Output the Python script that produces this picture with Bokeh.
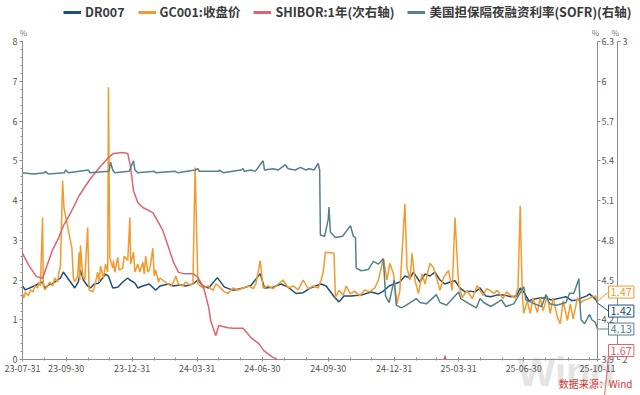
import pandas as pd
from bokeh.plotting import figure
from bokeh.models import (Range1d, LinearAxis, FixedTicker, SingleIntervalTicker,
                          DatetimeTickFormatter, Legend, LegendItem, Label, Arrow,
                          ColumnDataSource, BoxAnnotation)
from bokeh.embed import file_html
from bokeh.resources import INLINE

FONT = "Noto Sans CJK SC"

series_names = ["DR007", "GC001:收盘价", "SHIBOR:1年(次右轴)", "美国担保隔夜融资利率(SOFR)(右轴)"]
series_colors = ["#1f4e79", "#f39a2c", "#e0646c", "#55818b"]

x_start, x_end = "2023-07-31", "2025-10-11"
x_major_ticks = ["2023-07-31", "2023-09-30", "2023-12-31", "2024-03-31", "2024-06-30",
                 "2024-09-30", "2024-12-31", "2025-03-31", "2025-06-30", "2025-10-11"]
left_range = (0, 8)
sofr_range = (3.9, 6.3)
sofr_ticks = [3.9, 4.2, 4.5, 4.8, 5.1, 5.4, 5.7, 6.0, 6.3]
shibor_range = (2, 3)
shibor_ticks = [2, 3]

dr_dates = ["2023-07-31", "2023-08-04", "2023-08-10", "2023-08-16", "2023-08-22", "2023-08-28", "2023-08-31",
            "2023-09-06", "2023-09-12", "2023-09-18", "2023-09-22", "2023-09-26", "2023-10-08", "2023-10-12",
            "2023-10-17", "2023-10-20", "2023-10-24", "2023-10-30", "2023-11-03", "2023-11-08", "2023-11-14",
            "2023-11-20", "2023-11-24", "2023-11-28", "2023-12-04", "2023-12-11", "2023-12-18", "2023-12-25",
            "2023-12-28", "2024-01-04", "2024-01-08", "2024-01-15", "2024-01-24", "2024-02-02", "2024-02-08",
            "2024-02-20", "2024-02-27", "2024-03-08", "2024-03-15", "2024-03-25", "2024-04-01", "2024-04-08",
            "2024-04-16", "2024-04-28", "2024-05-08", "2024-05-21", "2024-06-03", "2024-06-14", "2024-06-27",
            "2024-07-03", "2024-07-15", "2024-07-26", "2024-08-05", "2024-08-16", "2024-08-26", "2024-09-05",
            "2024-09-20", "2024-09-27", "2024-10-09", "2024-10-15", "2024-10-22", "2024-11-01", "2024-11-15",
            "2024-11-29", "2024-12-09", "2024-12-16", "2024-12-24", "2024-12-31", "2025-01-08", "2025-01-15",
            "2025-01-22", "2025-01-27", "2025-02-05", "2025-02-12", "2025-02-19", "2025-02-26", "2025-03-05",
            "2025-03-12", "2025-03-19", "2025-03-26", "2025-04-02", "2025-04-09", "2025-04-16", "2025-04-23",
            "2025-04-30", "2025-05-08", "2025-05-15", "2025-05-23", "2025-06-03", "2025-06-12", "2025-06-20",
            "2025-06-25", "2025-06-30", "2025-07-07", "2025-07-15", "2025-07-23", "2025-07-31", "2025-08-07",
            "2025-08-14", "2025-08-21", "2025-08-28", "2025-09-05", "2025-09-12", "2025-09-19", "2025-09-26",
            "2025-09-30", "2025-10-09", "2025-10-11"]
dr_vals = [1.85, 1.75, 1.80, 1.85, 1.90, 1.95, 1.80,
           1.88, 1.92, 2.00, 2.05, 2.20, 1.90, 1.80,
           1.95, 2.25, 2.00, 1.85, 1.80, 1.90, 1.92,
           2.05, 2.15, 2.10, 1.80, 1.82, 1.95, 2.05,
           2.00, 1.92, 1.80, 1.85, 1.90, 1.74, 1.85,
           1.90, 1.85, 1.88, 1.85, 1.90, 2.00, 1.85,
           1.80, 2.06, 1.82, 1.74, 1.80, 1.86, 2.16,
           1.80, 1.82, 1.90, 1.82, 1.66, 1.68, 1.80,
           1.90, 1.85, 1.56, 1.45, 1.60, 1.60, 1.62,
           1.70, 1.65, 1.72, 1.85, 1.90, 1.95, 2.10,
           2.05, 2.20, 1.95, 2.15, 2.10, 2.20, 2.00,
           1.90, 1.95, 1.98, 1.80, 1.70, 1.72, 1.70,
           1.80, 1.60, 1.58, 1.62, 1.62, 1.58, 1.60,
           1.80, 1.70, 1.48, 1.52, 1.55, 1.55, 1.50,
           1.52, 1.55, 1.58, 1.48, 1.50, 1.55, 1.60,
           1.65, 1.50, 1.42]

gc_dates = ["2023-07-31", "2023-08-02", "2023-08-04", "2023-08-08", "2023-08-11", "2023-08-15", "2023-08-17",
            "2023-08-21", "2023-08-23", "2023-08-25", "2023-08-28", "2023-08-29", "2023-08-31", "2023-09-04",
            "2023-09-07", "2023-09-11", "2023-09-14", "2023-09-18", "2023-09-20", "2023-09-22", "2023-09-25",
            "2023-09-27", "2023-10-08", "2023-10-10", "2023-10-12", "2023-10-16", "2023-10-18", "2023-10-19",
            "2023-10-20", "2023-10-23", "2023-10-26", "2023-10-30", "2023-11-01", "2023-11-06", "2023-11-09",
            "2023-11-13", "2023-11-15", "2023-11-17", "2023-11-21", "2023-11-24", "2023-11-27", "2023-11-28",
            "2023-11-30", "2023-12-04", "2023-12-05", "2023-12-07", "2023-12-11", "2023-12-13", "2023-12-18",
            "2023-12-20", "2023-12-25", "2023-12-28", "2023-12-29", "2024-01-02", "2024-01-04", "2024-01-08",
            "2024-01-11", "2024-01-15", "2024-01-17", "2024-01-19", "2024-01-22", "2024-01-24", "2024-01-26",
            "2024-01-29", "2024-01-31", "2024-02-02", "2024-02-06", "2024-02-08", "2024-02-19", "2024-02-23",
            "2024-02-27", "2024-03-01", "2024-03-05", "2024-03-11", "2024-03-15", "2024-03-20", "2024-03-25",
            "2024-03-28", "2024-04-01", "2024-04-08", "2024-04-15", "2024-04-22", "2024-04-26", "2024-04-30",
            "2024-05-08", "2024-05-13", "2024-05-20", "2024-05-27", "2024-06-03", "2024-06-11", "2024-06-17",
            "2024-06-21", "2024-06-27", "2024-07-01", "2024-07-08", "2024-07-15", "2024-07-22", "2024-07-29",
            "2024-08-05", "2024-08-12", "2024-08-19", "2024-08-26", "2024-09-02", "2024-09-09", "2024-09-16",
            "2024-09-20", "2024-09-23", "2024-09-26", "2024-10-08", "2024-10-10", "2024-10-15", "2024-10-21",
            "2024-10-25", "2024-10-31", "2024-11-06", "2024-11-13", "2024-11-20", "2024-11-27", "2024-12-04",
            "2024-12-09", "2024-12-16", "2024-12-21", "2024-12-25", "2024-12-30", "2025-01-04", "2025-01-08",
            "2025-01-15", "2025-01-18", "2025-01-22", "2025-01-25", "2025-01-29", "2025-02-03", "2025-02-08",
            "2025-02-12", "2025-02-19", "2025-02-24", "2025-03-01", "2025-03-05", "2025-03-10", "2025-03-17",
            "2025-03-22", "2025-03-26", "2025-03-31", "2025-04-05", "2025-04-12", "2025-04-19", "2025-04-26",
            "2025-04-30", "2025-05-04", "2025-05-09", "2025-05-14", "2025-05-19", "2025-05-24", "2025-06-01",
            "2025-06-06", "2025-06-11", "2025-06-18", "2025-06-22", "2025-06-25", "2025-06-28", "2025-06-30",
            "2025-07-05", "2025-07-09", "2025-07-13", "2025-07-19", "2025-07-23", "2025-07-27", "2025-08-02",
            "2025-08-06", "2025-08-10", "2025-08-16", "2025-08-20", "2025-08-24", "2025-08-30", "2025-09-03",
            "2025-09-07", "2025-09-13", "2025-09-17", "2025-09-21", "2025-09-27", "2025-10-01", "2025-10-08",
            "2025-10-11"]
gc_vals = [1.65, 1.55, 1.70, 1.60, 1.75, 1.70, 1.85,
           1.80, 1.95, 1.85, 3.57, 1.90, 1.75, 1.85,
           1.95, 1.85, 2.05, 1.95, 2.20, 2.35, 4.50,
           3.80, 2.80, 2.06, 1.95, 2.10, 2.70, 2.00,
           2.87, 2.10, 2.00, 3.32, 1.75, 1.70, 1.85,
           2.20, 1.95, 2.35, 2.05, 2.40, 2.20, 6.85,
           2.55, 2.30, 2.49, 2.20, 2.57, 2.25, 2.30,
           2.60, 2.50, 3.57, 2.40, 2.70, 2.20, 2.40,
           2.20, 2.45, 2.15, 2.60, 2.20, 2.25, 2.40,
           2.80, 2.10, 2.25, 1.95, 2.05, 1.90, 1.85,
           1.95, 2.10, 1.90, 1.85, 1.95, 1.88, 1.90,
           4.83, 1.90, 1.80, 1.85, 1.74, 1.90, 1.85,
           1.70, 1.66, 1.80, 1.75, 1.80, 1.85, 1.78,
           1.90, 2.49, 1.80, 1.85, 1.78, 1.90, 2.00,
           1.80, 1.85, 1.75, 2.00, 1.78, 1.85, 1.80,
           2.00, 2.20, 2.70, 2.67, 1.56, 1.74, 1.62,
           1.85, 1.65, 1.72, 1.60, 1.75, 1.70, 1.80,
           2.00, 2.54, 2.00, 2.42, 2.16, 1.40, 1.74,
           3.92, 2.31, 2.00, 2.67, 2.00, 1.66, 2.16,
           1.90, 2.42, 2.31, 2.00, 1.74, 2.06, 2.24,
           1.74, 3.57, 1.90, 1.56, 1.74, 1.53, 1.86,
           1.74, 1.61, 1.78, 1.74, 1.66, 1.74, 1.53,
           1.70, 1.62, 1.55, 1.81, 3.87, 1.62, 1.16,
           1.48, 1.16, 1.55, 1.18, 1.55, 1.23, 1.60,
           1.16, 1.55, 1.06, 0.90, 1.48, 0.98, 1.40,
           1.02, 1.55, 1.42, 1.48, 1.52, 1.55, 1.60,
           1.47]

shibor_dates = ["2023-07-31", "2023-08-09", "2023-08-19", "2023-08-28", "2023-09-04", "2023-09-11", "2023-09-19",
                "2023-09-26", "2023-10-06", "2023-10-18", "2023-11-01", "2023-11-14", "2023-11-28", "2023-12-05",
                "2023-12-18", "2023-12-25", "2023-12-29", "2024-01-02", "2024-01-08", "2024-01-15", "2024-01-29",
                "2024-02-02", "2024-02-12", "2024-02-20", "2024-02-27", "2024-03-05", "2024-03-12", "2024-03-25",
                "2024-04-01", "2024-04-09", "2024-04-16", "2024-04-19", "2024-04-26", "2024-04-30", "2024-05-13",
                "2024-05-21", "2024-06-03", "2024-06-14", "2024-06-25", "2024-07-02", "2024-07-15", "2024-07-19",
                "2024-07-31", "2024-08-30", "2024-09-30", "2024-10-31", "2024-11-29", "2024-12-31", "2025-01-24",
                "2025-02-21", "2025-03-07", "2025-03-12", "2025-03-17", "2025-03-31", "2025-04-30", "2025-05-30",
                "2025-06-30", "2025-07-31", "2025-08-29", "2025-09-30", "2025-10-11"]
shibor_vals = [2.334, 2.295, 2.262, 2.255, 2.30, 2.345, 2.38,
               2.42, 2.46, 2.515, 2.563, 2.60, 2.635, 2.648,
               2.651, 2.648, 2.604, 2.531, 2.494, 2.478, 2.462,
               2.446, 2.406, 2.352, 2.305, 2.274, 2.27, 2.27,
               2.258, 2.226, 2.164, 2.12, 2.075, 2.107, 2.10,
               2.098, 2.098, 2.069, 2.05, 2.028, 2.006, 2.003,
               1.96, 1.88, 1.85, 1.78, 1.70, 1.60, 1.70,
               1.85, 1.96, 2.012, 1.97, 1.91, 1.80, 1.70,
               1.65, 1.62, 1.66, 1.68, 1.67]

sofr_dates = ["2023-07-31", "2023-08-15", "2023-08-31", "2023-09-01", "2023-09-05", "2023-09-28", "2023-09-29",
              "2023-10-03", "2023-10-31", "2023-11-02", "2023-11-29", "2023-12-01", "2023-12-04", "2023-12-07",
              "2023-12-27", "2024-01-02", "2024-01-04", "2024-01-08", "2024-01-31", "2024-02-02", "2024-02-29",
              "2024-03-04", "2024-03-28", "2024-04-01", "2024-04-03", "2024-04-30", "2024-05-01", "2024-05-06",
              "2024-05-31", "2024-06-03", "2024-06-05", "2024-06-14", "2024-06-20", "2024-07-01", "2024-07-03",
              "2024-07-15", "2024-07-22", "2024-08-01", "2024-08-05", "2024-08-15", "2024-08-22", "2024-08-30",
              "2024-09-03", "2024-09-10", "2024-09-16", "2024-09-18", "2024-09-19", "2024-09-25", "2024-09-30",
              "2024-10-01", "2024-10-03", "2024-10-10", "2024-10-20", "2024-10-31", "2024-11-04", "2024-11-07",
              "2024-11-08", "2024-11-15", "2024-11-25", "2024-12-02", "2024-12-09", "2024-12-16", "2024-12-19",
              "2024-12-24", "2024-12-31", "2025-01-03", "2025-01-10", "2025-01-17", "2025-01-31", "2025-02-05",
              "2025-02-14", "2025-02-28", "2025-03-05", "2025-03-14", "2025-03-31", "2025-04-03", "2025-04-15",
              "2025-04-25", "2025-04-30", "2025-05-05", "2025-05-15", "2025-05-30", "2025-06-05", "2025-06-16",
              "2025-06-30", "2025-07-03", "2025-07-15", "2025-07-25", "2025-07-31", "2025-08-05", "2025-08-15",
              "2025-08-28", "2025-09-02", "2025-09-08", "2025-09-15", "2025-09-17", "2025-09-18", "2025-09-23",
              "2025-09-30", "2025-10-03", "2025-10-08", "2025-10-11"]
sofr_vals = [5.31, 5.30, 5.31, 5.32, 5.30, 5.31, 5.33,
             5.31, 5.33, 5.31, 5.32, 5.39, 5.33, 5.31,
             5.32, 5.40, 5.33, 5.31, 5.32, 5.31, 5.32,
             5.31, 5.33, 5.34, 5.32, 5.32, 5.33, 5.31,
             5.33, 5.34, 5.32, 5.33, 5.32, 5.40, 5.33,
             5.34, 5.33, 5.37, 5.34, 5.33, 5.35, 5.33,
             5.34, 5.33, 5.38, 5.33, 4.84, 4.83, 4.96,
             5.05, 4.86, 4.82, 4.83, 4.91, 4.83, 4.82,
             4.59, 4.57, 4.58, 4.64, 4.62, 4.66, 4.38,
             4.33, 4.50, 4.31, 4.29, 4.31, 4.36, 4.33,
             4.32, 4.39, 4.33, 4.31, 4.41, 4.36, 4.32,
             4.29, 4.36, 4.33, 4.30, 4.35, 4.30, 4.32,
             4.45, 4.35, 4.32, 4.30, 4.39, 4.32, 4.31,
             4.33, 4.40, 4.40, 4.51, 4.28, 4.20, 4.17,
             4.24, 4.20, 4.18, 4.13]


def ms(d):
    return (pd.Timestamp(d) - pd.Timestamp("1970-01-01")) // pd.Timedelta(milliseconds=1)


# ---- layout (pixels of the data area inside the 640x395 canvas) ----
W, H = 640, 395
FL, FR, FT, FB = 22, 597, 41, 359

x0, x1 = ms(x_start), ms(x_end)
ms_px = (x1 - x0) / (FR - FL)
u_px = (left_range[1] - left_range[0]) / (FB - FT)
y_lo = left_range[0] - (H - FB) * u_px
y_hi = left_range[1] + FT * u_px
sofr_k = (sofr_range[1] - sofr_range[0]) / (left_range[1] - left_range[0])
shib_k = (shibor_range[1] - shibor_range[0]) / (left_range[1] - left_range[0])

major_ms = [ms(d) for d in x_major_ticks]
minor_ms = [ms(d) for d in pd.date_range(x_start, x_end, freq="ME")]

p = figure(width=W, height=H, x_axis_type="datetime", output_backend="svg", toolbar_location=None,
           x_range=Range1d(x0 - FL * ms_px, x1 + (W - FR) * ms_px), y_range=Range1d(y_lo, y_hi),
           min_border=0, title=None)
p.background_fill_color = "white"
p.border_fill_color = "white"
p.outline_line_color = None
p.xgrid.visible = False
p.ygrid.visible = False
p.extra_y_ranges = {
    "sofr": Range1d(sofr_range[0] + (y_lo - left_range[0]) * sofr_k, sofr_range[0] + (y_hi - left_range[0]) * sofr_k),
    "shibor": Range1d(shibor_range[0] + (y_lo - left_range[0]) * shib_k, shibor_range[0] + (y_hi - left_range[0]) * shib_k),
}

AX_COL = "#8c8c8c"
LBL_COL = "#555555"


def style_axis(ax):
    ax.axis_line_color = AX_COL
    ax.major_tick_line_color = AX_COL
    ax.minor_tick_line_color = AX_COL
    ax.major_tick_in = 0
    ax.major_tick_out = 3
    ax.minor_tick_in = 0
    ax.minor_tick_out = 2
    ax.major_label_text_font = FONT
    ax.major_label_text_font_size = "9px"
    ax.major_label_text_color = LBL_COL
    ax.major_label_standoff = 2


xa = p.xaxis[0]
xa.ticker = FixedTicker(ticks=major_ms, minor_ticks=minor_ms)
fmt = "%y-%m-%d"
xa.formatter = DatetimeTickFormatter(milliseconds=fmt, seconds=fmt, minsec=fmt, minutes=fmt, hourmin=fmt,
                                     hours=fmt, days=fmt, months=fmt, years=fmt)
style_axis(xa)
xa.fixed_location = left_range[0]
xa.bounds = (x0, x1)
xa.major_tick_in = 2
xa.major_tick_out = 2
xa.minor_tick_in = 2
xa.minor_tick_out = 1
xa.major_label_standoff = 3

ya = p.yaxis[0]
ya.ticker = SingleIntervalTicker(interval=1, num_minor_ticks=5)
style_axis(ya)
ya.fixed_location = x0
ya.bounds = left_range

ax_sofr = LinearAxis(y_range_name="sofr", ticker=FixedTicker(ticks=sofr_ticks))
style_axis(ax_sofr)
ax_sofr.fixed_location = x1
ax_sofr.bounds = sofr_range
ax_sofr.major_label_standoff = 1
p.add_layout(ax_sofr, "right")
ax_shibor = LinearAxis(y_range_name="shibor", ticker=FixedTicker(ticks=shibor_ticks))
style_axis(ax_shibor)
ax_shibor.fixed_location = x1 + 20 * ms_px
ax_shibor.bounds = shibor_range
p.add_layout(ax_shibor, "right")

# ---- series ----
dr_src = ColumnDataSource(dict(x=pd.to_datetime(dr_dates), y=dr_vals))
gc_src = ColumnDataSource(dict(x=pd.to_datetime(gc_dates), y=gc_vals))
sh_src = ColumnDataSource(dict(x=pd.to_datetime(shibor_dates), y=shibor_vals))
so_src = ColumnDataSource(dict(x=pd.to_datetime(sofr_dates), y=sofr_vals))

p.line("x", "y", source=dr_src, color=series_colors[0], line_width=1.5)
p.line("x", "y", source=gc_src, color=series_colors[1], line_width=1.5)
p.line("x", "y", source=sh_src, color=series_colors[2], line_width=1.5, y_range_name="shibor")
p.line("x", "y", source=so_src, color=series_colors[3], line_width=1.5, y_range_name="sofr")

# white mask below the x axis (the secondary-axis series runs below its axis minimum)
p.add_layout(BoxAnnotation(top=left_range[0], fill_color="white", fill_alpha=1, line_alpha=0, level="glyph"))

# ---- legend (thicker swatches; the swatch renderers draw nothing on the plot) ----
legend_items = []
for name, col in zip(series_names, series_colors):
    rr = p.line(x=[x0], y=[float("nan")], color=col, line_width=3)
    legend_items.append(LegendItem(label=name, renderers=[rr]))
legend = Legend(items=legend_items, orientation="horizontal", location=(63, H - 21),
                label_text_font=FONT, label_text_font_size="12.5px", label_text_font_style="bold",
                label_text_color="#3a3a3a", glyph_width=18, glyph_height=12, spacing=13,
                padding=0, margin=0, border_line_color=None, background_fill_alpha=0,
                label_standoff=4, label_height=12)
p.add_layout(legend)

# ---- percent unit labels above axes ----
for xx, off in [(x0, 1), (x1, -2), (x1, 18)]:
    p.add_layout(Label(x=xx, y=left_range[1], x_offset=off, y_offset=9, text="%", text_font=FONT,
                       text_font_size="8px", text_color="#777777", text_align="center",
                       text_baseline="middle"))

# ---- end-value labels with leader lines ----
end_specs = [
    (gc_vals[-1], "default", series_colors[1], 9, u_px),
    (dr_vals[-1], "default", series_colors[0], -8, u_px),
    (sofr_vals[-1], "sofr", series_colors[3], 0, u_px * sofr_k),
]
for val, rng, col, dy, k in end_specs:
    p.add_layout(Label(x=x1, y=val, y_range_name=rng, x_offset=11, y_offset=dy, text=f"{val:.2f}",
                       text_font=FONT, text_font_size="11px", text_color=col, text_baseline="middle",
                       text_align="left", border_line_color=col, background_fill_color="white",
                       padding=2))
    p.add_layout(Arrow(end=None, x_start=x1, y_start=val, x_end=x1 + 11 * ms_px,
                       y_end=val + dy * k, y_range_name=rng, line_color=col, line_width=1))

sh_last = shibor_vals[-1]
p.add_layout(Arrow(end=None, x_start=x1 + 11 * ms_px, y_start=left_range[0] + 2 * u_px, x_end=x1,
                   y_end=left_range[0] + (sh_last - shibor_range[0]) / shib_k, line_color=series_colors[2],
                   line_width=1))
p.add_layout(Label(x=x1, y=left_range[0], x_offset=11, y_offset=9, text=f"{sh_last:.2f}",
                   text_font=FONT, text_font_size="11px", text_color=series_colors[2],
                   text_baseline="middle", text_align="left", border_line_color=series_colors[2],
                   background_fill_color="white", padding=2))

# ---- watermark and source ----
p.add_layout(Label(x=x1, y=left_range[0], x_offset=-80, y_offset=10, text="Wind", text_font="Liberation Sans",
                   text_font_size="40px", text_font_style="bold", text_color="#e4e4e4",
                   text_baseline="top", level="glyph"))
p.add_layout(Label(x=x1, y=left_range[0], x_offset=35, y_offset=-24, text="数据来源：Wind", text_font=FONT,
                   text_font_size="10px", text_color="#cc3a3a", text_baseline="middle", text_align="right"))

open("out.html", "w").write(file_html(p, INLINE))
